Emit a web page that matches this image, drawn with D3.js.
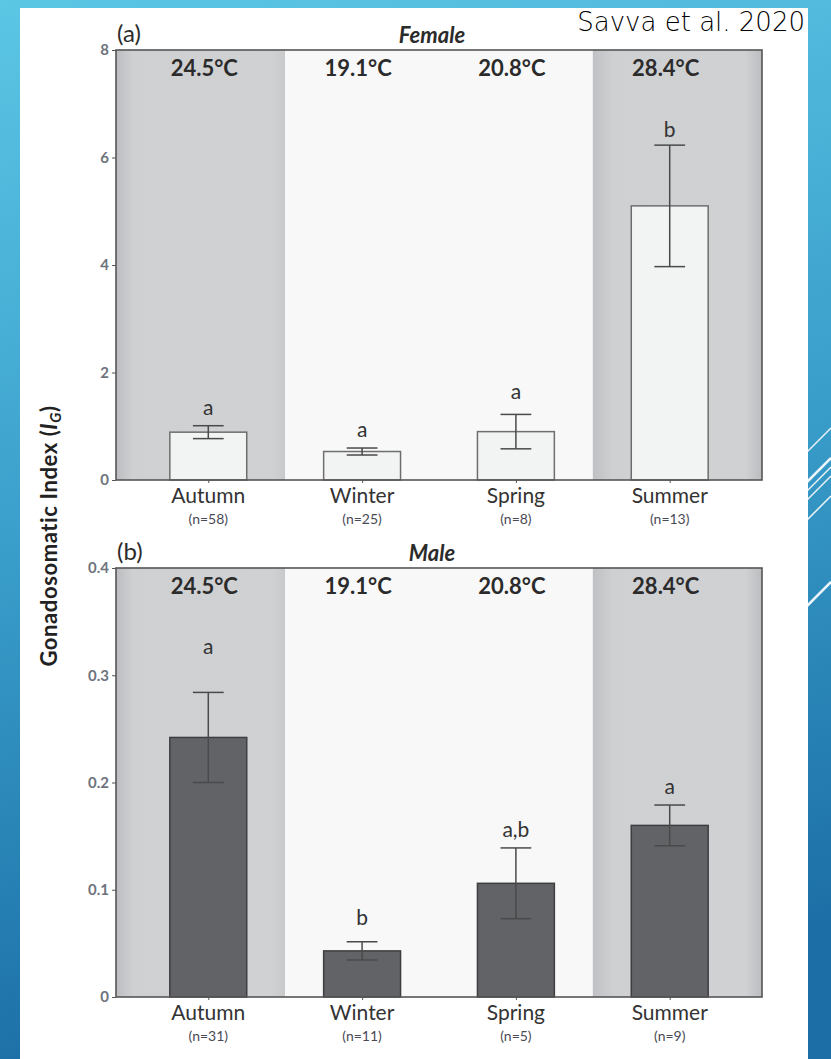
<!DOCTYPE html>
<html>
<head>
<meta charset="utf-8">
<script src="https://cdn.jsdelivr.net/npm/d3@7"></script>
<style>
html,body{margin:0;padding:0;}
svg{display:block;}
</style>
</head>
<body>
<svg id="chart" width="831" height="1059"></svg>
<script>
// ---------- data ----------
const seasons = ["Autumn", "Winter", "Spring", "Summer"];
const temperatures = ["24.5°C", "19.1°C", "20.8°C", "28.4°C"];
const warmBand = [true, false, false, true];

const femaleN = ["(n=58)", "(n=25)", "(n=8)", "(n=13)"];
const femaleMean = [0.89, 0.53, 0.90, 5.10];
const femaleErr = [0.12, 0.065, 0.32, 1.13];
const femaleLetters = ["a", "a", "a", "b"];
const femaleLetterY = [1.21, 0.80, 1.50, 6.38];
const femaleTicks = [0, 2, 4, 6, 8];

const maleN = ["(n=31)", "(n=11)", "(n=5)", "(n=9)"];
const maleMean = [0.242, 0.043, 0.106, 0.160];
const maleErr = [0.042, 0.0085, 0.033, 0.019];
const maleLetters = ["a", "b", "a,b", "a"];
const maleLetterY = [0.320, 0.067, 0.149, 0.189];
const maleTicks = [0, 0.1, 0.2, 0.3, 0.4];

// ---------- canvas ----------
const svg = d3.select("#chart");
const W = 831, H = 1059;
const defs = svg.append("defs");

const bg = defs.append("linearGradient").attr("id", "bgGrad")
  .attr("x1", 0).attr("y1", 0).attr("x2", 0.15).attr("y2", 1);
bg.append("stop").attr("offset", "0%").attr("stop-color", "#5cc6e5");
bg.append("stop").attr("offset", "50%").attr("stop-color", "#3a9fcb");
bg.append("stop").attr("offset", "100%").attr("stop-color", "#1c6fa6");

const gA = defs.append("linearGradient").attr("id", "grayL")
  .attr("x1", 0).attr("y1", 0).attr("x2", 1).attr("y2", 0);
gA.append("stop").attr("offset", "0%").attr("stop-color", "#bcbdc0");
gA.append("stop").attr("offset", "10%").attr("stop-color", "#cfd0d2");
gA.append("stop").attr("offset", "92%").attr("stop-color", "#d0d1d3");
gA.append("stop").attr("offset", "100%").attr("stop-color", "#c8c9cb");
const gB = defs.append("linearGradient").attr("id", "grayR")
  .attr("x1", 0).attr("y1", 0).attr("x2", 1).attr("y2", 0);
gB.append("stop").attr("offset", "0%").attr("stop-color", "#c0c1c4");
gB.append("stop").attr("offset", "12%").attr("stop-color", "#cfd0d2");
gB.append("stop").attr("offset", "90%").attr("stop-color", "#d0d1d3");
gB.append("stop").attr("offset", "100%").attr("stop-color", "#bcbdc0");

svg.append("rect").attr("width", W).attr("height", H).attr("fill", "url(#bgGrad)");

// decorative lines on right strip
const deco = [453, 483, 492, 501, 521, 607];
svg.append("g").selectAll("line").data(deco).join("line")
  .attr("x1", 806).attr("y1", d => d).attr("x2", 831).attr("y2", d => d - 25)
  .attr("stroke", "#ffffff").attr("stroke-width", d => d === 483 || d === 607 ? 2.5 : 1.5)
  .attr("stroke-opacity", 0.9);

// white panel
svg.append("rect").attr("x", 20).attr("y", 8).attr("width", 788).attr("height", H - 8)
  .attr("fill", "#ffffff");

// source text
svg.append("text").attr("x", 805).attr("y", 31).attr("text-anchor", "end")
  .attr("font-family", "'DejaVu Sans', sans-serif").attr("font-weight", 200)
  .attr("font-size", 26).attr("fill", "#000").text("Savva et al. 2020");

const plotLeft = 116, plotRight = 762;
const x = d3.scalePoint().domain(seasons).range([plotLeft, plotRight]).padding(0.6);
const step = x.step();

function drawPanel(cfg) {
  const y = d3.scaleLinear().domain([0, cfg.max]).range([cfg.bottom, cfg.top]);
  const g = svg.append("g");

  // background bands
  g.selectAll("rect.band").data(seasons).join("rect")
    .attr("class", "band")
    .attr("x", (d, i) => i === 0 ? plotLeft : x(d) - step / 2)
    .attr("width", (d, i) => {
      const x0 = i === 0 ? plotLeft : x(d) - step / 2;
      const x1 = i === seasons.length - 1 ? plotRight : x(d) + step / 2;
      return x1 - x0;
    })
    .attr("y", cfg.top).attr("height", cfg.bottom - cfg.top)
    .attr("fill", (d, i) => warmBand[i] ? (i === 0 ? "url(#grayL)" : "url(#grayR)") : "#f8f8f8");

  // temperature labels
  g.selectAll("text.temp").data(temperatures).join("text")
    .attr("class", "temp")
    .attr("x", (d, i) => x(seasons[i]) - 4).attr("y", cfg.top + 26)
    .attr("text-anchor", "middle")
    .attr("font-family", "Lato, sans-serif").attr("font-weight", 700).attr("font-size", 22)
    .attr("fill", "#2b2b2b").text(d => d);

  // bars
  const bw = step * 0.5;
  g.selectAll("rect.bar").data(cfg.mean).join("rect")
    .attr("class", "bar")
    .attr("x", (d, i) => x(seasons[i]) - bw / 2).attr("width", bw)
    .attr("y", d => y(d)).attr("height", d => cfg.bottom - y(d))
    .attr("fill", cfg.barFill).attr("stroke", cfg.barStroke).attr("stroke-width", 1.5);

  // error bars
  const cw = step * 0.2;
  const eb = g.selectAll("g.err").data(cfg.mean).join("g").attr("class", "err")
    .attr("stroke", "#4a4a4a").attr("stroke-width", 1.5);
  eb.append("line")
    .attr("x1", (d, i) => x(seasons[i])).attr("x2", (d, i) => x(seasons[i]))
    .attr("y1", (d, i) => y(d + cfg.err[i])).attr("y2", (d, i) => y(d - cfg.err[i]));
  eb.append("line")
    .attr("x1", (d, i) => x(seasons[i]) - cw / 2).attr("x2", (d, i) => x(seasons[i]) + cw / 2)
    .attr("y1", (d, i) => y(d + cfg.err[i])).attr("y2", (d, i) => y(d + cfg.err[i]));
  eb.append("line")
    .attr("x1", (d, i) => x(seasons[i]) - cw / 2).attr("x2", (d, i) => x(seasons[i]) + cw / 2)
    .attr("y1", (d, i) => y(d - cfg.err[i])).attr("y2", (d, i) => y(d - cfg.err[i]));

  // significance letters
  g.selectAll("text.letter").data(cfg.letters).join("text")
    .attr("class", "letter")
    .attr("x", (d, i) => x(seasons[i])).attr("y", (d, i) => y(cfg.letterY[i]))
    .attr("text-anchor", "middle")
    .attr("font-family", "Lato, sans-serif").attr("font-size", 21)
    .attr("fill", "#333").text(d => d);

  // frame
  g.append("rect").attr("x", plotLeft).attr("y", cfg.top)
    .attr("width", plotRight - plotLeft).attr("height", cfg.bottom - cfg.top)
    .attr("fill", "none").attr("stroke", "#555").attr("stroke-width", 1.6);

  // y axis
  const ya = d3.axisLeft(y).tickValues(cfg.ticks).tickSize(4).tickPadding(3)
    .tickFormat(d => d === 0 ? "0" : (cfg.max < 1 ? d3.format(".1f")(d) : d3.format("d")(d)));
  const yg = g.append("g").attr("transform", `translate(${plotLeft},0)`).call(ya);
  yg.select(".domain").remove();
  yg.selectAll(".tick line").attr("stroke", "#555");
  yg.selectAll(".tick text").attr("font-family", "Lato, sans-serif").attr("font-size", 15)
    .attr("font-weight", 700).attr("fill", "#6e737c");

  // x axis
  const xa = d3.axisBottom(x).tickSize(3).tickFormat("");
  const xg = g.append("g").attr("transform", `translate(0,${cfg.bottom})`).call(xa);
  xg.select(".domain").remove();
  xg.selectAll(".tick line").attr("stroke", "#555");

  g.selectAll("text.cat").data(seasons).join("text")
    .attr("class", "cat")
    .attr("x", d => x(d)).attr("y", cfg.bottom + 23).attr("text-anchor", "middle")
    .attr("font-family", "Lato, sans-serif").attr("font-size", 21).attr("fill", "#333")
    .text(d => d);
  g.selectAll("text.n").data(cfg.n).join("text")
    .attr("class", "n")
    .attr("x", (d, i) => x(seasons[i])).attr("y", cfg.bottom + 44).attr("text-anchor", "middle")
    .attr("font-family", "Lato, sans-serif").attr("font-size", 14).attr("fill", "#4a4a55")
    .text(d => d);

  // panel tag and title
  g.append("text").attr("x", 117).attr("y", cfg.top - 8)
    .attr("font-family", "Lato, sans-serif").attr("font-size", 24).attr("fill", "#2b2b2b")
    .text(cfg.tag);
  g.append("text").attr("x", 432).attr("y", cfg.top - 7).attr("text-anchor", "middle")
    .attr("font-family", "Lato, sans-serif").attr("font-weight", 700).attr("font-style", "italic")
    .attr("font-size", 22).attr("fill", "#2b2b2b").text(cfg.title);
}

drawPanel({
  top: 50, bottom: 480, max: 8, ticks: femaleTicks,
  mean: femaleMean, err: femaleErr, letters: femaleLetters, letterY: femaleLetterY,
  n: femaleN, barFill: "#f2f3f3", barStroke: "#6e6e6e", tag: "(a)", title: "Female"
});
drawPanel({
  top: 568, bottom: 997, max: 0.4, ticks: maleTicks,
  mean: maleMean, err: maleErr, letters: maleLetters, letterY: maleLetterY,
  n: maleN, barFill: "#626367", barStroke: "#3e3e40", tag: "(b)", title: "Male"
});

// y-axis title
const yt = svg.append("text")
  .attr("transform", "translate(57,536) rotate(-90)")
  .attr("text-anchor", "middle")
  .attr("font-family", "Lato, sans-serif").attr("font-weight", 700).attr("font-size", 22)
  .attr("letter-spacing", 0.6)
  .attr("fill", "#222");
yt.append("tspan").text("Gonadosomatic Index (");
yt.append("tspan").attr("font-style", "italic").text("I");
yt.append("tspan").attr("font-style", "italic").attr("font-size", 15).attr("dy", 4).text("G");
yt.append("tspan").attr("dy", -4).text(")");
</script>
</body>
</html>
